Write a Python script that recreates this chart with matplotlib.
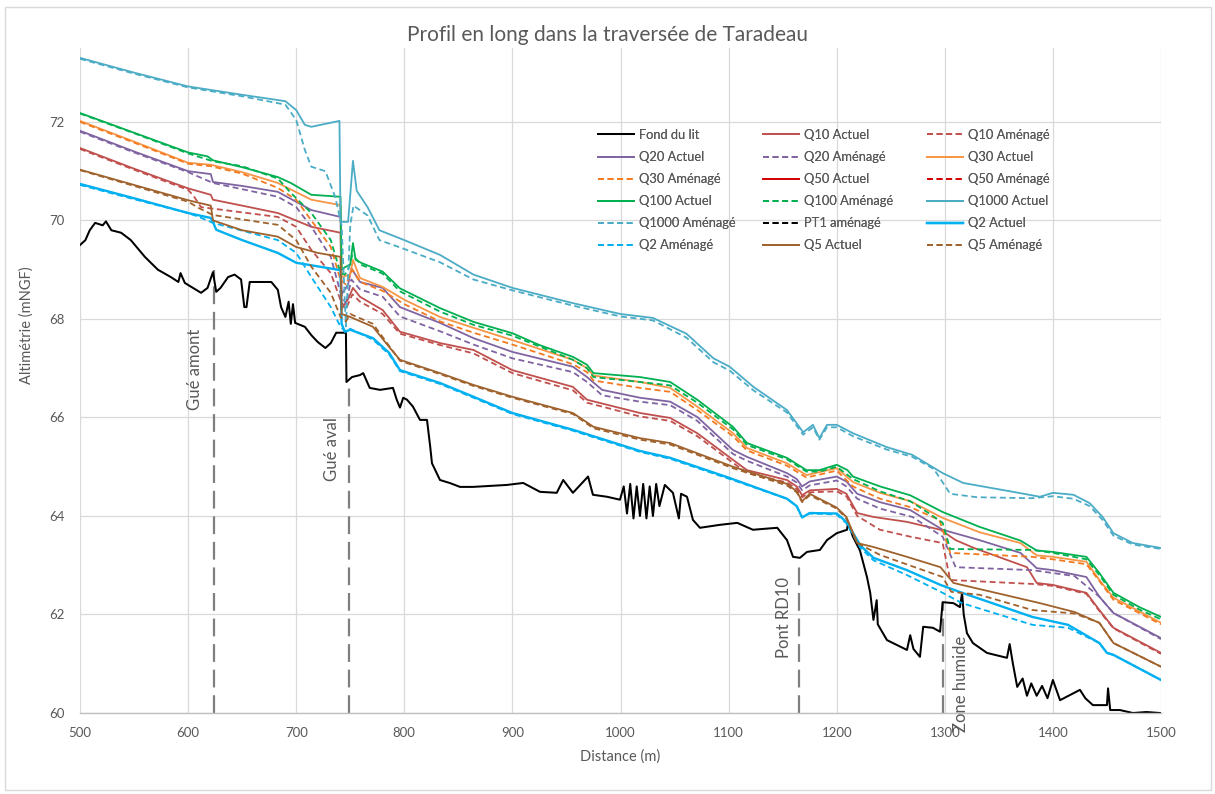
import matplotlib
matplotlib.use("Agg")
import matplotlib.pyplot as plt
from matplotlib.patches import Rectangle

plt.rcParams['font.family'] = ['Lato', 'DejaVu Sans']

# ---------------- DATA ----------------
bed_x = [500, 505, 509, 514, 521, 524, 529, 538, 547, 560, 572, 584, 591, 593, 597, 603, 612, 618, 623, 626,
         630, 637, 643, 649, 652, 654, 657, 677, 683, 686, 690, 693, 695, 697, 699, 708, 714, 720, 727, 732,
         737, 745, 746, 746.5, 751.6, 759, 762, 768, 777.5, 789.5, 793, 796, 799, 802.5, 808, 814.5, 821, 824,
         825.6, 833, 842, 851.5, 863.5, 895, 910, 925.5, 941, 947, 956, 970, 974.5, 987.5, 999.5, 1003, 1006,
         1009, 1012, 1015, 1018, 1021, 1024, 1027, 1030, 1033, 1036, 1041, 1048.5, 1054, 1056, 1061.5, 1067,
         1073.5, 1092, 1108, 1122.5, 1145, 1154, 1159.6, 1166, 1172.5, 1184.5, 1191, 1200, 1209.5, 1210.5, 1215,
         1221.5, 1228, 1231, 1234, 1237, 1238, 1246.5, 1265, 1268, 1271, 1277, 1280, 1289, 1295.6, 1298, 1308,
         1314, 1316, 1317.5, 1320.5, 1326, 1339, 1357.5, 1360, 1363, 1367, 1372, 1376, 1380, 1385, 1390, 1395,
         1400, 1406.6, 1425, 1430, 1437, 1450, 1451, 1453, 1462, 1474, 1486.5, 1499]
bed_y = [69.5, 69.6, 69.8, 69.95, 69.9, 69.98, 69.8, 69.75, 69.6, 69.26, 69.0, 68.85, 68.75, 68.93, 68.73, 68.65,
         68.53, 68.63, 68.95, 68.55, 68.63, 68.85, 68.9, 68.8, 68.24, 68.24, 68.75, 68.75, 68.59, 68.24, 68.04,
         68.35, 67.9, 68.3, 67.92, 67.84, 67.67, 67.53, 67.41, 67.51, 67.72, 67.72, 67.72, 66.72, 66.82, 66.86,
         66.9, 66.6, 66.56, 66.6, 66.36, 66.2, 66.4, 66.36, 66.22, 65.95, 65.95, 65.4, 65.07, 64.73, 64.67,
         64.59, 64.59, 64.63, 64.67, 64.49, 64.47, 64.73, 64.47, 64.8, 64.43, 64.39, 64.33, 64.6, 64.05, 64.65,
         63.95, 64.6, 64.0, 64.65, 63.95, 64.6, 64.0, 64.65, 64.2, 64.63, 64.47, 63.95, 64.45, 64.39, 63.92,
         63.76, 63.82, 63.86, 63.72, 63.76, 63.51, 63.17, 63.15, 63.27, 63.31, 63.51, 63.65, 63.72, 63.86, 63.58,
         63.3, 62.76, 62.44, 61.89, 62.29, 61.8, 61.48, 61.28, 61.58, 61.3, 61.14, 61.75, 61.73, 61.65, 62.25,
         62.23, 62.15, 62.44, 62.0, 61.62, 61.42, 61.22, 61.12, 61.4, 61.0, 60.53, 60.7, 60.35, 60.6, 60.35,
         60.55, 60.3, 60.67, 60.26, 60.47, 60.3, 60.16, 60.16, 60.5, 60.06, 60.06, 60.0, 60.02, 60.0]

q10_act_x = [500, 550, 600, 621, 623, 650, 683, 714, 741, 742, 748, 752.5, 759, 780, 796, 833, 864, 900, 956, 969,
             1018, 1046, 1071, 1104, 1117, 1154, 1163, 1168, 1175, 1200, 1209, 1219, 1234, 1265, 1296, 1310, 1327,
             1376, 1385, 1400, 1431, 1443, 1456, 1500]
q10_act_y = [71.47, 71.05, 70.65, 70.52, 70.42, 70.3, 70.15, 69.87, 69.75, 68.2, 68.4, 68.63, 68.45, 68.18, 67.74,
             67.51, 67.37, 66.96, 66.62, 66.36, 66.09, 65.99, 65.68, 65.14, 64.93, 64.73, 64.6, 64.42, 64.52, 64.55,
             64.45, 64.06, 63.98, 63.88, 63.72, 63.51, 63.35, 62.96, 62.64, 62.6, 62.44, 62.09, 61.73, 61.22]
q10_am_x = [500, 550, 600, 605, 612, 683, 700, 714, 732, 741, 746, 752, 759, 780, 796, 833, 864, 900, 956, 969,
            1018, 1046, 1071, 1104, 1117, 1154, 1163, 1168, 1175, 1200, 1209, 1219, 1240, 1268, 1298, 1305, 1381,
            1400, 1431, 1443, 1456, 1500]
q10_am_y = [71.45, 71.03, 70.62, 70.5, 70.27, 70.07, 69.87, 69.4, 68.93, 68.38, 68.2, 68.5, 68.35, 68.1, 67.7,
            67.47, 67.3, 66.9, 66.55, 66.3, 66.02, 65.93, 65.62, 65.08, 64.87, 64.68, 64.55, 64.38, 64.48, 64.5,
            64.4, 64.0, 63.72, 63.58, 63.45, 62.7, 62.62, 62.58, 62.42, 62.07, 61.72, 61.2]

q20_act_x = [500, 550, 600, 621, 623, 650, 683, 714, 741, 742, 748, 751, 759, 780, 796, 833, 864, 900, 956, 969,
             983, 1018, 1046, 1071, 1104, 1117, 1154, 1163, 1168, 1175, 1200, 1209, 1219, 1240, 1268, 1298, 1332,
             1370, 1385, 1400, 1431, 1443, 1456, 1500]
q20_act_y = [71.82, 71.4, 71.0, 70.94, 70.78, 70.7, 70.58, 70.21, 70.07, 68.5, 68.7, 69.03, 68.75, 68.63, 68.24,
             67.92, 67.61, 67.33, 67.03, 66.82, 66.56, 66.4, 66.32, 66.01, 65.34, 65.2, 64.87, 64.75, 64.6, 64.7,
             64.8, 64.7, 64.45, 64.28, 64.12, 63.72, 63.51, 63.25, 62.94, 62.9, 62.76, 62.36, 62.03, 61.52]
q20_am_x = [500, 550, 600, 623, 683, 700, 714, 732, 741, 746, 751, 759, 780, 796, 833, 864, 900, 956, 969, 983,
            1018, 1046, 1071, 1104, 1117, 1154, 1163, 1168, 1175, 1200, 1209, 1219, 1240, 1270, 1298, 1310, 1381,
            1420, 1443, 1456, 1500]
q20_am_y = [71.8, 71.38, 70.98, 70.76, 70.48, 70.27, 69.87, 69.26, 68.53, 68.3, 68.8, 68.6, 68.45, 68.05, 67.75,
            67.48, 67.2, 66.92, 66.72, 66.45, 66.32, 66.25, 65.93, 65.26, 65.12, 64.8, 64.68, 64.52, 64.62, 64.72,
            64.6, 64.35, 64.15, 63.98, 63.58, 62.96, 62.9, 62.78, 62.36, 62.03, 61.5]

q30_act_x = [500, 550, 600, 621, 650, 683, 714, 741, 742, 750, 752.5, 759, 780, 800, 833, 864, 900, 956, 969, 975,
             1018, 1046, 1071, 1104, 1117, 1154, 1172, 1200, 1215, 1240, 1268, 1298, 1332, 1370, 1385, 1400, 1431,
             1443, 1456, 1500]
q30_act_y = [72.02, 71.6, 71.17, 71.13, 70.98, 70.76, 70.42, 70.31, 68.85, 68.9, 69.2, 68.83, 68.65, 68.39, 68.04,
             67.82, 67.57, 67.17, 67.0, 66.85, 66.72, 66.6, 66.22, 65.68, 65.38, 65.07, 64.83, 64.97, 64.69, 64.47,
             64.3, 63.96, 63.67, 63.45, 63.2, 63.17, 63.07, 62.7, 62.34, 61.83]
q30_am_x = [500, 550, 600, 621, 650, 683, 700, 714, 732, 741, 746, 752, 759, 780, 800, 833, 864, 900, 956, 969,
            975, 1018, 1046, 1071, 1104, 1117, 1154, 1172, 1200, 1215, 1240, 1268, 1295, 1305, 1381, 1400, 1431,
            1443, 1456, 1500]
q30_am_y = [72.0, 71.58, 71.15, 71.1, 70.95, 70.66, 70.42, 70.0, 69.46, 68.79, 68.7, 69.0, 68.75, 68.57, 68.3,
            67.95, 67.72, 67.48, 67.08, 66.92, 66.75, 66.6, 66.52, 66.15, 65.62, 65.33, 65.02, 64.78, 64.92, 64.6,
            64.35, 64.18, 63.92, 63.25, 63.17, 63.12, 63.02, 62.68, 62.3, 61.8]

q100_act_x = [500, 550, 600, 618, 623, 650, 683, 695, 714, 741, 742, 745, 750, 752.5, 755, 760, 780, 796, 833, 864,
              900, 925, 956, 969, 975, 1018, 1046, 1071, 1104, 1117, 1154, 1172, 1184, 1200, 1210, 1215, 1240,
              1268, 1298, 1332, 1370, 1385, 1400, 1431, 1443, 1456, 1480, 1500]
q100_act_y = [72.18, 71.78, 71.38, 71.3, 71.22, 71.08, 70.88, 70.76, 70.52, 70.48, 69.0, 69.05, 69.1, 69.54, 69.2,
              69.14, 68.96, 68.62, 68.22, 67.94, 67.71, 67.47, 67.23, 67.07, 66.9, 66.82, 66.72, 66.36, 65.81,
              65.48, 65.18, 64.93, 64.93, 65.04, 64.93, 64.8, 64.6, 64.42, 64.08, 63.78, 63.5, 63.3, 63.27, 63.17,
              62.84, 62.44, 62.15, 61.95]
q100_am_x = [500, 550, 600, 623, 650, 683, 695, 714, 732, 741, 745, 748, 752, 760, 780, 796, 833, 864, 900, 956,
             969, 975, 1018, 1046, 1071, 1104, 1117, 1154, 1172, 1184, 1200, 1215, 1240, 1268, 1285, 1298, 1305,
             1381, 1400, 1431, 1443, 1456, 1480, 1500]
q100_am_y = [72.17, 71.77, 71.36, 71.2, 71.1, 70.85, 70.56, 70.15, 69.6, 68.93, 68.9, 69.0, 69.3, 69.1, 68.92,
             68.56, 68.15, 67.88, 67.66, 67.17, 67.0, 66.82, 66.72, 66.65, 66.3, 65.76, 65.44, 65.15, 64.9, 64.9,
             65.0, 64.75, 64.5, 64.3, 64.06, 63.86, 63.33, 63.31, 63.25, 63.12, 62.8, 62.4, 62.1, 61.9]

q1000_act_x = [500, 550, 600, 650, 690, 700, 708, 714, 740, 741, 748, 752.5, 756, 766, 777, 800, 833, 864, 900,
               956, 1000, 1030, 1061, 1086, 1101, 1123, 1154, 1169, 1178, 1184, 1191, 1200, 1215, 1246, 1270, 1298,
               1317, 1363, 1388, 1400, 1419, 1434, 1446, 1456, 1474, 1500]
q1000_act_y = [73.3, 73.0, 72.72, 72.55, 72.42, 72.24, 71.94, 71.9, 72.02, 69.97, 69.97, 71.21, 70.6, 70.27, 69.8,
               69.6, 69.3, 68.9, 68.63, 68.32, 68.1, 68.02, 67.7, 67.2, 67.03, 66.62, 66.15, 65.7, 65.85, 65.58,
               65.85, 65.85, 65.68, 65.4, 65.24, 64.87, 64.67, 64.49, 64.39, 64.47, 64.43, 64.26, 63.98, 63.65,
               63.45, 63.35]
q1000_am_x = [500, 550, 600, 650, 690, 700, 708, 714, 727, 736, 742, 746, 750, 753, 766, 777, 800, 833, 864, 900,
              956, 1000, 1030, 1061, 1086, 1101, 1123, 1154, 1169, 1178, 1184, 1191, 1200, 1215, 1246, 1270, 1290,
              1305, 1330, 1380, 1400, 1419, 1434, 1446, 1456, 1474, 1500]
q1000_am_y = [73.28, 72.98, 72.7, 72.52, 72.35, 72.04, 71.43, 71.09, 71.0, 70.48, 69.9, 67.85, 69.9, 70.3, 70.1,
              69.6, 69.42, 69.15, 68.8, 68.58, 68.27, 68.05, 67.97, 67.62, 67.12, 66.95, 66.55, 66.1, 65.65, 65.8,
              65.55, 65.8, 65.8, 65.62, 65.35, 65.2, 64.95, 64.45, 64.38, 64.36, 64.4, 64.35, 64.2, 63.92, 63.6,
              63.42, 63.33]

q2_act_x = [500, 550, 600, 621, 623, 626, 650, 683, 700, 741, 742, 745, 750, 771, 786, 796, 833, 864, 900, 956,
            1018, 1046, 1101, 1154, 1163, 1168, 1175, 1200, 1209, 1222, 1234, 1265, 1296, 1316, 1381, 1414, 1443,
            1450, 1456, 1500]
q2_act_y = [70.74, 70.45, 70.15, 70.05, 69.97, 69.81, 69.6, 69.34, 69.14, 68.99, 67.9, 67.74, 67.78, 67.61, 67.31,
            66.96, 66.7, 66.42, 66.09, 65.75, 65.32, 65.18, 64.77, 64.35, 64.2, 63.97, 64.06, 64.05, 63.88, 63.4,
            63.15, 62.9, 62.6, 62.44, 61.95, 61.79, 61.42, 61.22, 61.18, 60.67]
q2_am_x = [500, 550, 600, 610, 623, 683, 700, 714, 732, 741, 746, 750, 771, 786, 796, 833, 864, 900, 956, 1018,
           1046, 1101, 1154, 1163, 1168, 1175, 1200, 1209, 1222, 1234, 1265, 1298, 1316, 1381, 1414, 1443, 1450,
           1456, 1500]
q2_am_y = [70.72, 70.43, 70.15, 70.07, 69.95, 69.6, 69.34, 68.85, 68.24, 67.84, 67.74, 67.8, 67.58, 67.28, 66.94,
           66.68, 66.4, 66.07, 65.73, 65.3, 65.16, 64.75, 64.35, 64.2, 63.97, 64.05, 64.03, 63.85, 63.35, 63.1,
           62.8, 62.44, 62.23, 61.79, 61.73, 61.42, 61.22, 61.18, 60.67]

q5_act_x = [500, 550, 600, 621, 623, 650, 683, 700, 720, 741, 742, 750, 771, 786, 796, 833, 864, 900, 956, 975,
            1018, 1046, 1104, 1154, 1163, 1168, 1175, 1200, 1209, 1219, 1234, 1265, 1296, 1308, 1388, 1420, 1443,
            1456, 1500]
q5_act_y = [71.03, 70.72, 70.41, 70.3, 70.0, 69.8, 69.67, 69.46, 69.34, 69.26, 68.1, 68.04, 67.84, 67.43, 67.17,
            66.9, 66.66, 66.42, 66.09, 65.81, 65.58, 65.48, 65.0, 64.65, 64.5, 64.3, 64.45, 64.17, 63.98, 63.45,
            63.37, 63.17, 62.96, 62.64, 62.23, 62.05, 61.83, 61.42, 60.94]
q5_am_x = [500, 550, 600, 610, 623, 683, 700, 714, 732, 741, 746, 750, 771, 786, 796, 833, 864, 900, 956, 975,
           1018, 1046, 1104, 1154, 1163, 1168, 1175, 1200, 1209, 1219, 1240, 1298, 1306, 1332, 1381, 1420, 1443,
           1456, 1500]
q5_am_y = [71.02, 70.7, 70.38, 70.25, 70.11, 69.91, 69.6, 69.06, 68.53, 68.04, 67.95, 68.1, 67.9, 67.45, 67.15,
           66.88, 66.64, 66.4, 66.07, 65.78, 65.55, 65.45, 64.97, 64.62, 64.48, 64.28, 64.42, 64.15, 63.95, 63.45,
           63.21, 62.76, 62.46, 62.4, 62.09, 62.02, 61.83, 61.42, 60.94]

marker_x = [624, 749, 1165, 1298]
marker_top = [69.0, 66.75, 63.1, 62.25]
marker_labels = ["Gué amont", "Gué aval", "Pont RD10", "Zone humide"]
marker_label_x = [606.5, 733, 1151, 1315]
marker_label_y = [66.98, 65.36, 61.93, 60.6]

legend_labels = ["Fond du lit", "Q10 Actuel", "Q10 Aménagé",
                 "Q20 Actuel", "Q20 Aménagé", "Q30 Actuel",
                 "Q30 Aménagé", "Q50 Actuel", "Q50 Aménagé",
                 "Q100 Actuel", "Q100 Aménagé", "Q1000 Actuel",
                 "Q1000 Aménagé", "PT1 aménagé", "Q2 Actuel",
                 "Q2 Aménagé", "Q5 Actuel", "Q5 Aménagé"]

x_ticks = [500, 600, 700, 800, 900, 1000, 1100, 1200, 1300, 1400, 1500]
y_ticks = [60, 62, 64, 66, 68, 70, 72]

# ---------------- STYLE ----------------
C_Q10 = '#C0504D'
C_Q20 = '#8064A2'
C_Q30 = '#F79646'
C_Q30A = '#F47A1F'
C_Q50 = '#D40000'
C_Q100 = '#00B050'
C_Q1000 = '#4BACC6'
C_Q2 = '#00B0F0'
C_Q5 = '#A0622D'
GRAY = '#595959'
DASH = (3.3, 2.0)
LW = 1.3

series = {
    "Fond du lit": (bed_x, bed_y, dict(color='black', lw=1.45)),
    "Q10 Actuel": (q10_act_x, q10_act_y, dict(color=C_Q10, lw=LW)),
    "Q10 Aménagé": (q10_am_x, q10_am_y, dict(color=C_Q10, lw=LW, dashes=DASH)),
    "Q20 Actuel": (q20_act_x, q20_act_y, dict(color=C_Q20, lw=LW)),
    "Q20 Aménagé": (q20_am_x, q20_am_y, dict(color=C_Q20, lw=LW, dashes=DASH)),
    "Q30 Actuel": (q30_act_x, q30_act_y, dict(color=C_Q30, lw=LW)),
    "Q30 Aménagé": (q30_am_x, q30_am_y, dict(color=C_Q30A, lw=LW, dashes=DASH)),
    "Q50 Actuel": ([], [], dict(color=C_Q50, lw=LW)),
    "Q50 Aménagé": ([], [], dict(color=C_Q50, lw=LW, dashes=DASH)),
    "Q100 Actuel": (q100_act_x, q100_act_y, dict(color=C_Q100, lw=LW)),
    "Q100 Aménagé": (q100_am_x, q100_am_y, dict(color=C_Q100, lw=LW, dashes=DASH)),
    "Q1000 Actuel": (q1000_act_x, q1000_act_y, dict(color=C_Q1000, lw=LW)),
    "Q1000 Aménagé": (q1000_am_x, q1000_am_y, dict(color=C_Q1000, lw=LW, dashes=DASH)),
    "PT1 aménagé": ([], [], dict(color='black', lw=LW, dashes=DASH)),
    "Q2 Actuel": (q2_act_x, q2_act_y, dict(color=C_Q2, lw=1.7)),
    "Q2 Aménagé": (q2_am_x, q2_am_y, dict(color=C_Q2, lw=LW, dashes=DASH)),
    "Q5 Actuel": (q5_act_x, q5_act_y, dict(color=C_Q5, lw=LW)),
    "Q5 Aménagé": (q5_am_x, q5_am_y, dict(color=C_Q5, lw=LW, dashes=DASH)),
}

W, H = 1215, 794
fig = plt.figure(figsize=(W / 100, H / 100), dpi=100)
ax = fig.add_axes([80 / W, 1 - 713 / H, (1161 - 80) / W, (713 - 48) / H])

handles = {}
for name in legend_labels:
    xs, ys, st = series[name]
    (ln,) = ax.plot(xs, ys, label=name, **st)
    handles[name] = ln

# vertical markers
for mx, mt, lab, lx, ly in zip(marker_x, marker_top, marker_labels, marker_label_x, marker_label_y):
    ax.plot([mx, mx], [60, mt], color='#7F7F7F', lw=1.6, dashes=(8, 3.5), zorder=1)
    ax.text(lx, ly, lab, rotation=90, ha='center', va='center', fontsize=12, color=GRAY, clip_on=False)

ax.set_xlim(500, 1500)
ax.set_ylim(60, 73.5)
ax.set_xticks(x_ticks)
ax.set_yticks(y_ticks)
ax.grid(True, color='#D9D9D9', lw=0.9)
ax.set_axisbelow(True)
for s in ['top', 'right', 'left']:
    ax.spines[s].set_visible(False)
ax.spines['bottom'].set_color('#BFBFBF')
ax.spines['bottom'].set_linewidth(1.0)
ax.tick_params(length=0, labelsize=9.5, labelcolor=GRAY)
ax.tick_params(axis='y', pad=11)
ax.tick_params(axis='x', pad=10)

fig.text(620 / W, 1 - 757 / H, "Distance (m)", ha='center', va='center', fontsize=10.5, color=GRAY)
fig.text(27 / W, 1 - 325 / H, "Altimétrie (mNGF)", ha='center', va='center', rotation=90, fontsize=10.5, color=GRAY)
fig.text(0.5, 1 - 35 / H, "Profil en long dans la traversée de Taradeau", ha='center', va='center',
         fontsize=15, color=GRAY)

# legend: 3 columns laid out row-wise
col_left = [598, 763, 927]
for c in range(3):
    names = legend_labels[c::3]
    leg = fig.legend([handles[n] for n in names], names, loc='upper left',
                     bbox_to_anchor=(col_left[c] / W, 1 - 129 / H), bbox_transform=fig.transFigure,
                     frameon=False, fontsize=9.3, labelcolor=GRAY, handlelength=2.8, handletextpad=0.35,
                     labelspacing=0.78, borderpad=0, borderaxespad=0)
    fig.add_artist(leg)

fig.add_artist(Rectangle((5 / W, 4 / H), 1206 / W, 783 / H, transform=fig.transFigure,
                         fill=False, edgecolor='#D9D9D9', lw=1.0))

fig.savefig("out.png", dpi=100, facecolor='white')
